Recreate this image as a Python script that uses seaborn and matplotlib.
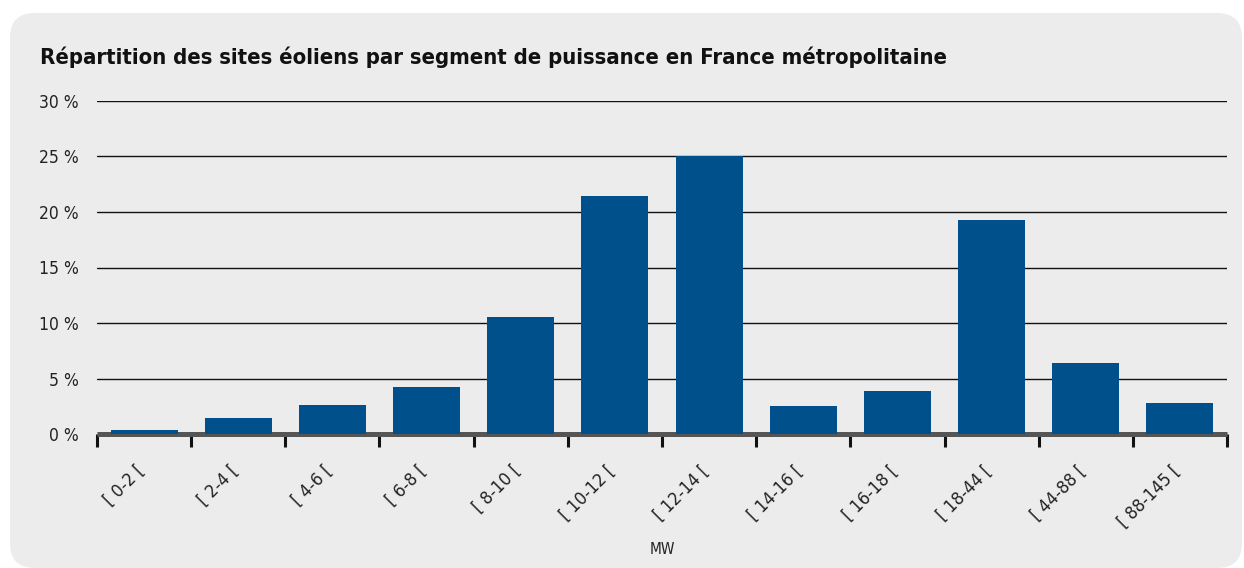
import numpy as np
import pandas as pd
import matplotlib
matplotlib.use('Agg')
import matplotlib.pyplot as plt
import matplotlib.transforms as mtransforms
from matplotlib.patches import FancyBboxPatch
import seaborn as sns

# --- Data ---
segments = ['[ 0-2 [', '[ 2-4 [', '[ 4-6 [', '[ 6-8 [', '[ 8-10 [', '[ 10-12 [',
            '[ 12-14 [', '[ 14-16 [', '[ 16-18 [', '[ 18-44 [', '[ 44-88 [', '[ 88-145 [']
share_pct = [0.4, 1.4, 2.6, 4.2, 10.5, 21.4, 25.0, 2.5, 3.9, 19.3, 6.4, 2.8]
y_ticks = [0, 5, 10, 15, 20, 25, 30]
y_ticklabels = ['0 %', '5 %', '10 %', '15 %', '20 %', '25 %', '30 %']

df = pd.DataFrame({'segment': segments, 'share': share_pct})

sns.set_style('white')
plt.rcParams['font.family'] = ['DejaVu Sans']
plt.rcParams['font.stretch'] = 'condensed'

BAR_COLOR = '#00508c'
PANEL_COLOR = '#ebeceb'

fig = plt.figure(figsize=(12.44, 5.68), dpi=100)
fig.patch.set_facecolor('white')

# rounded grey panel behind the chart
W, H = 1244, 568
panel = FancyBboxPatch((10 / W, 0), (1242 - 10) / W, (568 - 13) / H,
                       boxstyle='round,pad=0,rounding_size=0.02',
                       transform=fig.transFigure, facecolor=PANEL_COLOR,
                       edgecolor='none', mutation_aspect=W / H, zorder=-5)
fig.patches.append(panel)

ax = fig.add_axes([97 / W, 1 - 434 / H, (1227 - 97) / W, (434 - 101) / H])
ax.set_facecolor('none')
ax.set_zorder(2)

sns.barplot(data=df, x='segment', y='share', color=BAR_COLOR, width=0.71,
            saturation=1, linewidth=0, ax=ax, zorder=3)

ax.set_ylim(0, 30)
ax.set_xlim(-0.5, len(segments) - 0.5)
ax.set_yticks(y_ticks)
ax.set_yticklabels(y_ticklabels, fontsize=12.5, color='#222222')
for y in y_ticks[1:]:
    ax.axhline(y, color='#111111', lw=1.0, zorder=1)
ax.axhline(0, color='#555555', lw=3.6, zorder=2, clip_on=False,
           solid_capstyle='butt')

for s in ax.spines.values():
    s.set_visible(False)

ax.tick_params(axis='y', length=0, pad=13)
ax.tick_params(axis='x', which='major', length=0, pad=20)
ax.set_xticks(np.arange(-0.5, len(segments)), minor=True)
ax.tick_params(axis='x', which='minor', bottom=True, length=9, width=2.2,
               color='#111111', direction='out')
ax.set_xticklabels(segments, rotation=45, ha='right', va='top',
                   rotation_mode='anchor', fontsize=13, color='#222222')
shift = mtransforms.ScaledTranslation(-9 / 100, 0, fig.dpi_scale_trans)
for lbl in ax.get_xticklabels():
    lbl.set_transform(lbl.get_transform() + shift)

ax.set_xlabel('MW', fontsize=11, color='#222222', labelpad=8)
ax.set_ylabel('')

fig.text(40 / W, 1 - 57 / H, 'Répartition des sites éoliens par segment de puissance en France métropolitaine',
         fontsize=15.8, fontweight='bold', color='#111111', va='center', ha='left')

fig.savefig('out.png', dpi=100, facecolor='white')
